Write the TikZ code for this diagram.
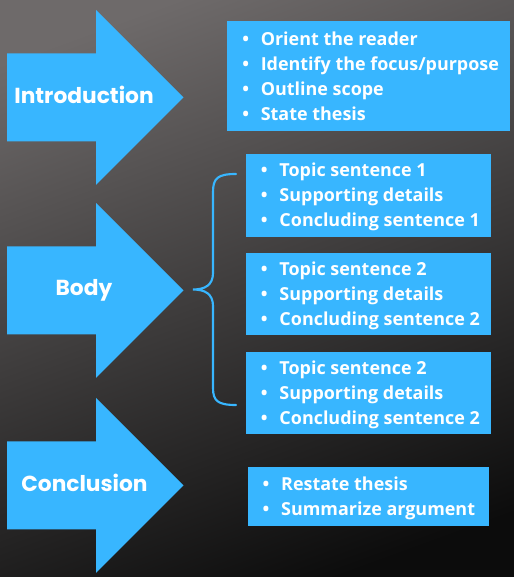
\documentclass[tikz,border=0pt]{standalone}
\usepackage{fontspec}
\setmainfont{Open Sans}
\newfontfamily\arrowfont{Poppins}
\usetikzlibrary{fit}
\definecolor{cblue}{HTML}{38B6FF}
\definecolor{bgtop}{HTML}{6E6A6A}
\definecolor{bgbot}{HTML}{0C0C0C}
\newcommand\bitem{\makebox[13.9pt][l]{•}}
\begin{document}
\begin{tikzpicture}[x=0.75pt,y=-0.75pt,
  arrowlabel/.style={text=white, font=\arrowfont\bfseries\fontsize{16.3}{20}\selectfont, anchor=base, inner sep=0pt},
  infobox/.style={fill=cblue, inner sep=0pt, draw=none},
  boxtext/.style={text=white, font=\bfseries\fontsize{13.45}{18.75}\selectfont, anchor=base west, inner sep=0pt, align=left},
  bracestyle/.style={draw=cblue, line width=1.6pt, line cap=round},
  bigarrow/.pic={\fill[cblue] (-77,-44) -- (12,-44) -- (12,-87.5) -- (99.5,0) -- (12,87.5) -- (12,44) -- (-77,44) -- cycle;}]
\useasboundingbox (0,0) rectangle (513,577);
\shade[top color=bgtop, bottom color=bgbot, shading angle=20] (-20,-20) rectangle (533,597);

% arrows
\pic at (84,97.3) {bigarrow};
\pic at (84,290.3) {bigarrow};
\pic at (84,485.3) {bigarrow};
\node[arrowlabel] (intro) at (84,103.3) {Introduction};
\node[arrowlabel] (body) at (84,295.7) {Body};
\node[arrowlabel] (concl) at (84.5,491.7) {Conclusion};

% boxes
\node[infobox, fit={(227.3,21) (510,130.7)}] (b1) {};
\node[infobox, fit={(246,154.3) (490.7,236.7)}] (b2) {};
\node[infobox, fit={(246,253.3) (491,335)}] (b3) {};
\node[infobox, fit={(246,352.3) (491,434.3)}] (b4) {};
\node[infobox, fit={(247.7,466.7) (489.3,525.7)}] (b5) {};

\node[boxtext] (t1) at (242,45.3) {\begin{tabular}[t]{@{}l@{}}\bitem Orient the reader\\ \bitem Identify the focus/purpose\\ \bitem Outline scope\\ \bitem State thesis\end{tabular}};
\node[boxtext] (t2) at (260.7,176.9) {\begin{tabular}[t]{@{}l@{}}\bitem Topic sentence 1\\ \bitem Supporting details\\ \bitem Concluding sentence 1\end{tabular}};
\node[boxtext] (t3) at (260.7,275.6) {\begin{tabular}[t]{@{}l@{}}\bitem Topic sentence 2\\ \bitem Supporting details\\ \bitem Concluding sentence 2\end{tabular}};
\node[boxtext] (t4) at (260.7,374.7) {\begin{tabular}[t]{@{}l@{}}\bitem Topic sentence 2\\ \bitem Supporting details\\ \bitem Concluding sentence 2\end{tabular}};
\node[boxtext] (t5) at (262.4,490.3) {\begin{tabular}[t]{@{}l@{}}\bitem Restate thesis\\ \bitem Summarize argument\end{tabular}};

% brace
\coordinate (btop) at (236,174);
\coordinate (bmid) at (193,289.5);
\coordinate (bbot) at (236,405);
\draw[bracestyle] (btop) .. controls (218,174) and (213,178) .. (213,192) -- (213,273)
  .. controls (213,285) and (205,289.5) .. (bmid)
  .. controls (205,289.5) and (213,294) .. (213,306) -- (213,388)
  .. controls (213,401) and (218,405) .. (bbot);
\end{tikzpicture}
\end{document}
